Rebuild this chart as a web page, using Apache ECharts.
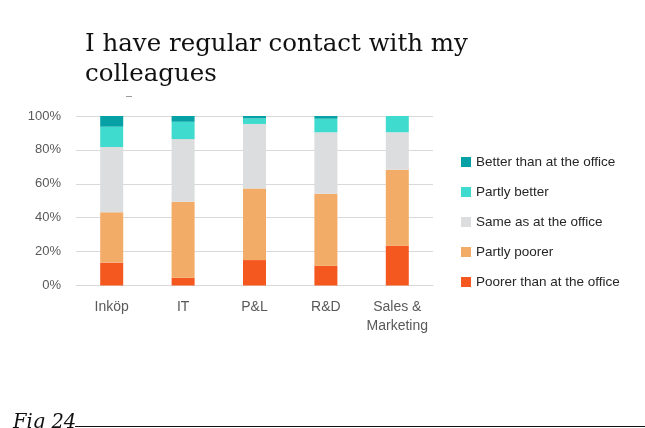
<!DOCTYPE html>
<html>
<head>
<meta charset="utf-8">
<script src="https://cdn.jsdelivr.net/npm/echarts@6/dist/echarts.min.js"></script>
<style>
  html, body { margin: 0; padding: 0; background: #ffffff; }
  #chart { width: 645px; height: 428px; }
</style>
</head>
<body>
<div id="chart"></div>
<script>
// Departments along the x axis
const categories = ['Inköp', 'IT', 'P&L', 'R&D', 'Sales &\nMarketing'];

// Share of answers per department (percent), stacked bottom to top
const poorer       = [13.5,  4.6, 15.0, 11.7, 23.5];
const partlyPoorer = [29.7, 44.8, 42.3, 42.5, 44.8];
const same         = [38.5, 37.0, 38.0, 36.2, 22.1];
const partlyBetter = [12.0, 10.2,  3.3,  8.0,  9.6];
const better       = [ 6.3,  3.4,  1.4,  1.6,  0.0];

const seriesNames = [
  'Poorer than at the office',
  'Partly poorer',
  'Same as at the office',
  'Partly better',
  'Better than at the office'
];
const seriesValues = [poorer, partlyPoorer, same, partlyBetter, better];
const seriesColors = ['#F4581E', '#F3AC67', '#DCDDDE', '#40DBCF', '#05A1A5'];

const chart = echarts.init(document.getElementById('chart'));

const series = seriesNames.map((name, i) => ({
  name: name,
  type: 'bar',
  stack: 'total',
  barWidth: 23,
  data: seriesValues[i],
  itemStyle: { color: seriesColors[i] }
}));

chart.setOption({
  animation: false,
  backgroundColor: '#ffffff',
  title: {
    text: 'I have regular contact with my\ncolleagues',
    left: 85,
    top: 30,
    padding: 0,
    textStyle: {
      fontFamily: 'DejaVu Serif',
      fontWeight: 'normal',
      fontSize: 24.5,
      lineHeight: 30,
      color: '#111111'
    }
  },
  legend: {
    orient: 'vertical',
    left: 461,
    top: 155,
    padding: 0,
    itemWidth: 10,
    itemHeight: 10,
    itemGap: 16,
    icon: 'rect',
    data: seriesNames.slice().reverse(),
    textStyle: {
      fontFamily: 'Liberation Sans',
      fontSize: 13.5,
      lineHeight: 14,
      color: '#262626'
    }
  },
  grid: {
    left: 76,
    right: 212,
    top: 116,
    bottom: 142.5
  },
  xAxis: {
    type: 'category',
    data: categories,
    axisLine: { lineStyle: { color: '#D9D9D9', width: 1 } },
    axisTick: { show: false },
    axisLabel: {
      interval: 0,
      margin: 12,
      fontFamily: 'Liberation Sans',
      fontSize: 14,
      lineHeight: 19,
      color: '#595959'
    }
  },
  yAxis: {
    type: 'value',
    min: 0,
    max: 100,
    interval: 20,
    axisLine: { show: false },
    axisTick: { show: false },
    splitLine: { lineStyle: { color: '#D9D9D9', width: 1 } },
    axisLabel: {
      margin: 15,
      fontFamily: 'Liberation Sans',
      fontSize: 13,
      color: '#595959',
      formatter: '{value}%'
    }
  },
  graphic: [
    {
      type: 'line',
      shape: { x1: 126, y1: 96.5, x2: 132, y2: 96.5 },
      style: { stroke: '#9a9a9a', lineWidth: 1 }
    },
    {
      type: 'text',
      left: 13,
      top: 413,
      style: {
        text: 'Fig 24',
        font: 'italic 19.5px "DejaVu Serif"',
        fill: '#111111'
      }
    },
    {
      type: 'line',
      shape: { x1: 75, y1: 426.5, x2: 645, y2: 426.5 },
      style: { stroke: '#111111', lineWidth: 1.2 }
    }
  ],
  series: series
});
</script>
</body>
</html>
